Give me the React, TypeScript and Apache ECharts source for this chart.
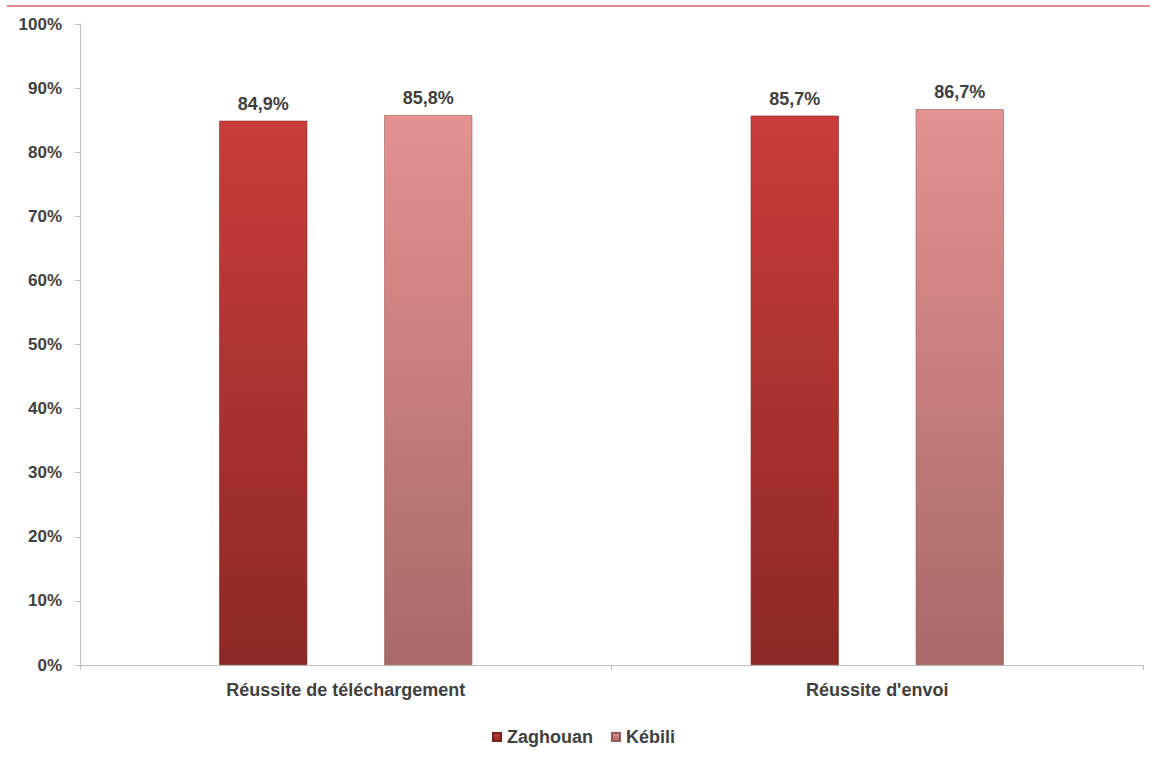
import React, { useEffect, useRef } from "react";
import * as echarts from "echarts";

const categories = ["Réussite de téléchargement", "Réussite d'envoi"];
const zaghouan = [84.9, 85.7];
const kebili = [85.8, 86.7];
const seriesNames = ["Zaghouan", "Kébili"];
const yTicks = [0, 10, 20, 30, 40, 50, 60, 70, 80, 90, 100];

const FONT = "'Liberation Sans', Arial, sans-serif";

export default function App() {
  const ref = useRef<HTMLDivElement>(null);
  useEffect(() => {
    const chart = echarts.init(ref.current!, null, { renderer: "svg" });
    const grad = (top: string, bottom: string) =>
      new echarts.graphic.LinearGradient(0, 0, 0, 1, [
        { offset: 0, color: top },
        { offset: 1, color: bottom },
      ]);
    const label = {
      show: true,
      position: "top" as const,
      distance: 8,
      fontFamily: FONT,
      fontWeight: "bold" as const,
      fontSize: 18,
      color: "#404040",
      formatter: (p: any) => p.value.toFixed(1).replace(".", ",") + "%",
    };
    chart.setOption({
      animation: false,
      backgroundColor: "#ffffff",
      graphic: [
        {
          type: "line",
          shape: { x1: 7, y1: 6, x2: 1150, y2: 6 },
          style: { stroke: "#cc6464", lineWidth: 1.5 },
        },
      ],
      grid: { left: 80, right: 7, top: 24, bottom: 93, containLabel: false },
      legend: {
        bottom: 12,
        left: 492,
        padding: 0,
        itemWidth: 8,
        itemHeight: 8,
        itemGap: 18,
        icon: "rect",
        textStyle: {
          fontFamily: FONT,
          fontWeight: "bold",
          fontSize: 18,
          letterSpacing: 0.6,
          color: "#404040",
          padding: [0, 0, 0, 1],
        },
        data: seriesNames,
      },
      xAxis: {
        type: "category",
        data: categories,
        axisLine: { lineStyle: { color: "#c0c0c0" } },
        axisTick: { show: true, length: 5, lineStyle: { color: "#c0c0c0" } },
        axisLabel: {
          fontFamily: FONT,
          fontWeight: "bold",
          fontSize: 18,
          letterSpacing: 0.6,
          color: "#404040",
          margin: 16,
        },
      },
      yAxis: {
        type: "value",
        min: 0,
        max: 100,
        interval: 10,
        splitLine: { show: false },
        axisLine: { show: true, lineStyle: { color: "#c0c0c0" } },
        axisTick: { show: true, length: 5, lineStyle: { color: "#c0c0c0" } },
        axisLabel: {
          fontFamily: FONT,
          fontWeight: "bold",
          fontSize: 17,
          color: "#404040",
          margin: 18,
          formatter: (v: number) => (yTicks.includes(v) ? v + "%" : ""),
        },
      },
      series: [
        {
          name: seriesNames[0],
          type: "bar",
          data: zaghouan,
          barWidth: 88,
          barGap: "87.5%",
          itemStyle: { color: grad("#c93c3a", "#8c2926"), borderColor: "#7a2220", borderWidth: 0.6 },
          label,
        },
        {
          name: seriesNames[1],
          type: "bar",
          data: kebili,
          barWidth: 88,
          itemStyle: { color: grad("#e39290", "#a86a69"), borderColor: "#935a5a", borderWidth: 0.6 },
          label,
        },
      ],
    });
    return () => chart.dispose();
  }, []);
  return <div ref={ref} style={{ width: 1150, height: 758, position: "absolute", left: 0, top: 0 }} />;
}
